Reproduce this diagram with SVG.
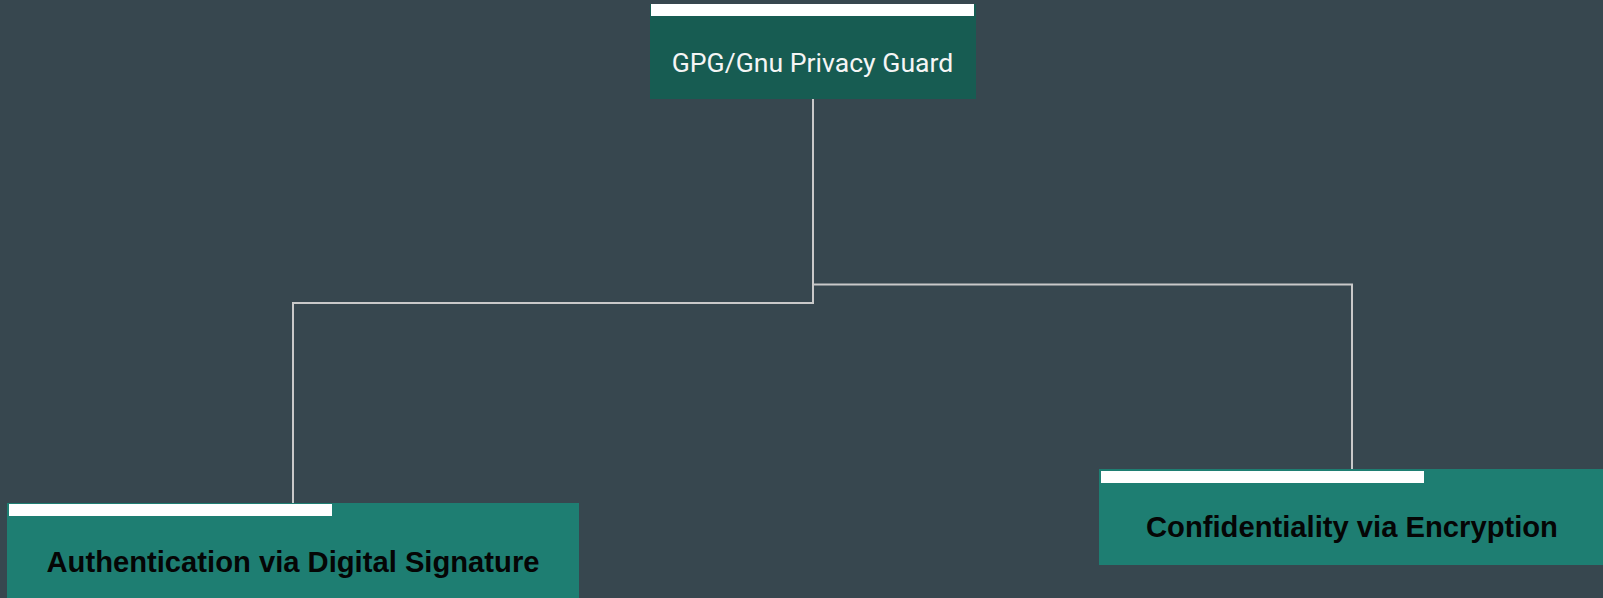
<svg xmlns="http://www.w3.org/2000/svg" width="1603" height="598" viewBox="0 0 1603 598">
<style>
.bar{fill:#ffffff}
.top{fill:#175c52}
.leaf{fill:#1e7e72}
.t1{font-family:Roboto,"Liberation Sans",sans-serif;font-size:26.6px;fill:#f5f5f5;text-anchor:middle}
.t2{font-family:"Liberation Sans",Arial,sans-serif;font-weight:bold;font-size:29.2px;fill:#050505;text-anchor:middle}
.conn{fill:none;stroke:#c9c9c9;stroke-width:2}
</style>
<rect width="1603" height="598" fill="#37474f"/>
<g id="connectors">
<polyline class="conn" points="813,99 813,303 293,303 293,504"/>
<polyline class="conn" points="813,99 813,284.5 1352,284.5 1352,469"/>
</g>
<g id="node-gpg">
<rect class="top" x="650" y="4" width="326" height="95"/>
<rect class="bar" x="651" y="4" width="323" height="12"/>
<text class="t1" x="812.5" y="72">GPG/Gnu Privacy Guard</text>
</g>
<g id="node-auth">
<rect class="leaf" x="7" y="503" width="572" height="100"/>
<rect class="bar" x="9" y="504" width="323" height="12"/>
<text class="t2" x="293" y="572">Authentication via Digital Signature</text>
</g>
<g id="node-conf">
<rect class="leaf" x="1099" y="469" width="510" height="96"/>
<rect class="bar" x="1101" y="471" width="323" height="12"/>
<text class="t2" x="1352" y="537">Confidentiality via Encryption</text>
</g>
</svg>
